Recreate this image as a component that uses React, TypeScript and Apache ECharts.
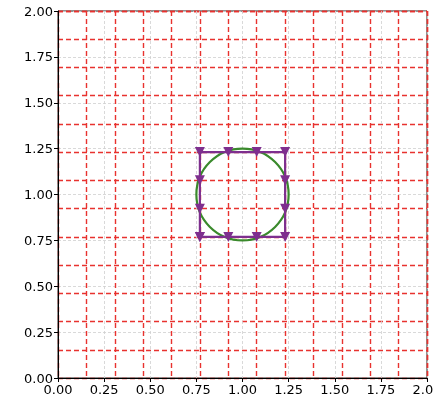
import React, { useEffect, useRef } from "react";
import * as echarts from "echarts";

const xTicks = [0, 0.25, 0.5, 0.75, 1.0, 1.25, 1.5, 1.75, 2.0];
const yTicks = [0, 0.25, 0.5, 0.75, 1.0, 1.25, 1.5, 1.75, 2.0];
const redGridStep = 2 / 13;
const squareX = [0.769, 0.923, 1.077, 1.231, 1.231, 1.231, 1.231, 1.077, 0.923, 0.769, 0.769, 0.769, 0.769];
const squareY = [0.769, 0.769, 0.769, 0.769, 0.923, 1.077, 1.231, 1.231, 1.231, 1.231, 1.077, 0.923, 0.769];
const circleCenter = [1.0, 1.0];
const circleRadius = 0.25;

export default function App() {
  const ref = useRef<HTMLDivElement>(null);
  useEffect(() => {
    const chart = echarts.init(ref.current!, null, { renderer: "svg" });
    const font = "DejaVu Sans";
    const baseAxis = (pos: string, ticks: number[]) => ({
      type: "value",
      position: pos,
      min: ticks[0],
      max: ticks[ticks.length - 1],
      interval: 0.25,
      axisLine: { show: true, onZero: false, lineStyle: { color: "#000", width: 1 } },
      axisTick: { show: true, length: 4, inside: false, lineStyle: { color: "#000", width: 1 } },
      axisLabel: {
        show: true,
        color: "#000",
        fontFamily: font,
        fontSize: 13,
        margin: 5,
        showMinLabel: true,
        showMaxLabel: true,
        hideOverlap: false,
        formatter: (v: number) => v.toFixed(2),
      },
      splitLine: { show: true, lineStyle: { color: "#cfcfcf", type: [3, 2], width: 0.8 } },
    });
    const redAxis = (pos: string) => ({
      type: "value",
      position: pos,
      min: 0,
      max: 2,
      interval: redGridStep,
      axisLine: { show: false },
      axisTick: { show: false },
      axisLabel: { show: false },
      splitLine: { show: true, lineStyle: { color: "#e8322f", type: [5, 3], width: 1.4 } },
    });
    chart.setOption({
      animation: false,
      grid: {
        left: 58,
        right: 7,
        top: 11,
        bottom: 27,
        containLabel: false,
        outerBoundsMode: "none",
        show: true,
        borderColor: "#222",
        borderWidth: 1,
        backgroundColor: "transparent",
      },
      xAxis: [baseAxis("bottom", xTicks), redAxis("top")],
      yAxis: [baseAxis("left", yTicks), redAxis("right")],
      series: [
        {
          type: "custom",
          xAxisIndex: 0,
          yAxisIndex: 0,
          data: [[circleCenter[0], circleCenter[1], circleRadius]],
          renderItem: (params: any, api: any) => {
            const c = api.coord([api.value(0), api.value(1)]);
            const s = api.size([api.value(2), api.value(2)]);
            return {
              type: "ellipse",
              shape: { cx: c[0], cy: c[1], rx: s[0], ry: s[1] },
              style: { fill: "none", stroke: "#3a8a2c", lineWidth: 2.2 },
              z2: 10,
            };
          },
          z: 5,
        },
        {
          type: "line",
          xAxisIndex: 0,
          yAxisIndex: 0,
          data: squareX.map((x, i) => [x, squareY[i]]),
          symbol: "triangle",
          symbolRotate: 180,
          symbolSize: 10,
          showAllSymbol: true,
          lineStyle: { color: "#7e2f8e", width: 2.2 },
          itemStyle: { color: "#7e2f8e" },
          z: 6,
        },
      ],
    });
    return () => chart.dispose();
  }, []);
  return <div ref={ref} style={{ position: "fixed", left: 0, top: 0, width: 434, height: 405 }} />;
}
